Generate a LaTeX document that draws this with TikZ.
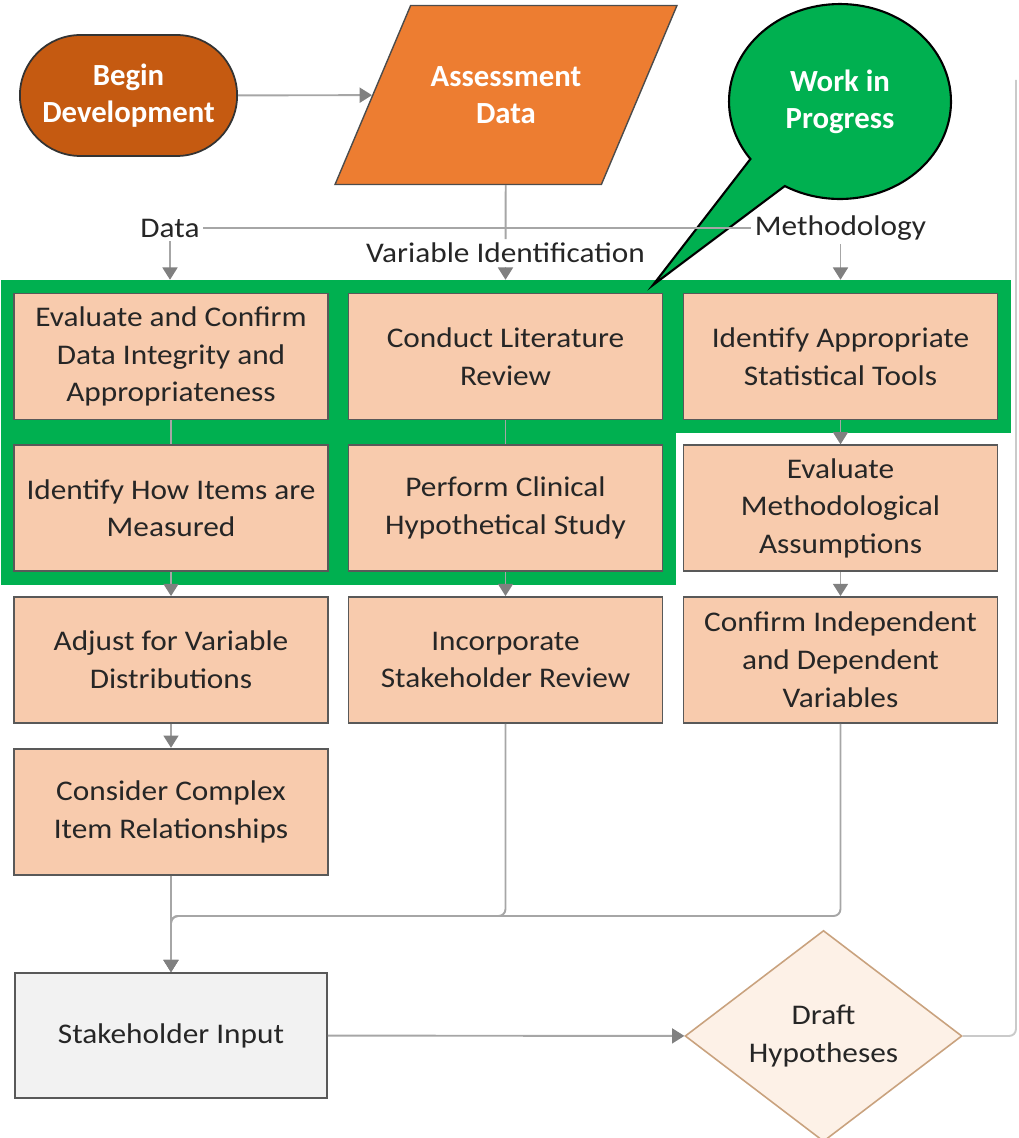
\documentclass[tikz,border=0pt]{standalone}
\usepackage{fontspec}
\setmainfont{Carlito}[FakeStretch=1.1]
\newfontfamily\headfont{Carlito}
\usetikzlibrary{arrows.meta, positioning, shapes.geometric, shapes.misc, shapes.callouts, fit, backgrounds}
\definecolor{startfill}{HTML}{C55A11}
\definecolor{inputfill}{HTML}{ED7D31}
\definecolor{stepfill}{HTML}{F8CBAD}
\definecolor{wipgreen}{HTML}{00B050}
\definecolor{linegray}{HTML}{A6A6A6}
\definecolor{tipgray}{HTML}{808080}
\definecolor{boxline}{HTML}{595959}
\definecolor{stakefill}{HTML}{F2F2F2}
\definecolor{draftfill}{HTML}{FDF1E7}
\definecolor{draftline}{HTML}{C9A27E}
\definecolor{inkgray}{HTML}{262626}
\newcommand{\boxfont}{\fontsize{16.2}{21.5}\selectfont}
\newcommand{\headtext}{\headfont\bfseries\fontsize{17.5}{21}\selectfont}
\tikzset{node distance=0.48cm,
    stepbox/.style={rectangle,draw=boxline,fill=stepfill,line width=1pt,
        minimum width=6.28cm,minimum height=2.52cm,align=center,
        text=inkgray,font=\boxfont},
    startbox/.style={rounded rectangle,draw=black!80,fill=startfill,line width=1pt,
        minimum width=4.58cm,minimum height=2.42cm,align=center,text=white,font=\headtext},
    databox/.style={trapezium,trapezium left angle=67.1,trapezium right angle=112.9,
        trapezium stretches body,draw=black!70,fill=inputfill,line width=0.8pt,
        minimum width=6.84cm,inner ysep=1.22cm,align=center,text=white,font=\headtext},
    inputbox/.style={rectangle,draw=boxline,fill=stakefill,line width=1pt,
        minimum width=6.24cm,minimum height=2.5cm,align=center,text=inkgray,font=\boxfont},
    branch/.style={diamond,draw=draftline,fill=draftfill,line width=0.9pt,
        minimum width=5.54cm,minimum height=4.12cm,inner sep=0pt,align=center,
        text=inkgray,font=\boxfont},
    textnode/.style={text=inkgray,font=\boxfont,inner sep=2pt},
    wipzone/.style={fill=wipgreen,inner sep=0.25cm},
    wipnote/.style={ellipse callout,draw=black,fill=wipgreen,line width=1.2pt,
        minimum width=4.44cm,minimum height=3.9cm,inner sep=0pt,callout pointer arc=24,
        align=center,text=white,font=\headtext},
    link/.style={draw=linegray,line width=1.1pt},
    flow/.style={link,-{Triangle[length=7pt,width=8.5pt,color=tipgray]}}}

\begin{document}
\begin{tikzpicture}[x=0.02cm,y=-0.02cm]
\useasboundingbox (0,0) rectangle (1018,1138);
% start and input
\node[startbox] (begin) at (128.5,95.5) {Begin\\Development};
\node[databox] (assess) at (506,95) {Assessment\\Data};
\coordinate (wiptip) at (653,285);
\node[wipnote, callout absolute pointer=(wiptip)] (wip) at (840,101.5) {Work in\\Progress};

% branch labels
\node[textnode] (lbldata) at (170,228) {Data};
\node[textnode] (lblvar) at (505.5,253) {Variable Identification};
\node[textnode] (lblmeth) at (840.5,228) {Methodology};

% data column
\node[stepbox] (e1) at (171,356.5) {Evaluate and Confirm\\Data Integrity and\\Appropriateness};
\node[stepbox, below=of e1] (e2) {Identify How Items are\\Measured};
\node[stepbox, below=of e2] (e3) {Adjust for Variable\\Distributions};
\node[stepbox, below=of e3] (e4) {Consider Complex\\Item Relationships};

% variable column
\node[stepbox] (c1) at (505.5,356.5) {Conduct Literature\\Review};
\node[stepbox, below=of c1] (c2) {Perform Clinical\\Hypothetical Study};
\node[stepbox, below=of c2] (c3) {Incorporate\\Stakeholder Review};

% methodology column
\node[stepbox] (m1) at (840.5,356.5) {Identify Appropriate\\Statistical Tools};
\node[stepbox, below=of m1] (m2) {Evaluate\\Methodological\\Assumptions};
\node[stepbox, below=of m2] (m3) {Confirm Independent\\and Dependent\\Variables};

% bottom
\node[inputbox] (stake) at (171,1035.5) {Stakeholder Input};
\node[branch] (draft) at (823.5,1036) {Draft\\Hypotheses};
\coordinate (join) at (171,916);
\coordinate (loopend) at (1016,80);

% work in progress zone
\begin{scope}[on background layer]
\node[wipzone, fit=(e1)(m1)] (wiprow1) {};
\node[wipzone, fit=(e2)(c2)] (wiprow2) {};
\end{scope}

\draw[flow] (begin) -- (assess);
\draw[link] (assess) -- (lblvar);
\draw[link] (lbldata) -- (lblmeth);
\draw[flow] (lbldata) -- (lbldata |- wiprow1.north);
\draw[flow] (lblvar) -- (lblvar |- wiprow1.north);
\draw[flow] (lblmeth) -- (lblmeth |- wiprow1.north);
\draw[link] (e1) -- (e2);
\draw[link] (c1) -- (c2);
\draw[flow] (m1) -- (m2);
\draw[flow] (e2) -- (e3);
\draw[flow] (e3) -- (e4);
\draw[flow] (c2) -- (c3);
\draw[flow] (m2) -- (m3);
\draw[flow] (e4) -- (stake);
\draw[flow, rounded corners=4pt] (c3.south) |- (join) -- (stake.north);
\draw[flow, rounded corners=4pt] (m3.south) |- (join) -- (stake.north);
\draw[flow] (stake) -- (draft);
\draw[link, draw=linegray!60, rounded corners=4pt] (draft.east) -| (loopend);
\end{tikzpicture}
\end{document}
